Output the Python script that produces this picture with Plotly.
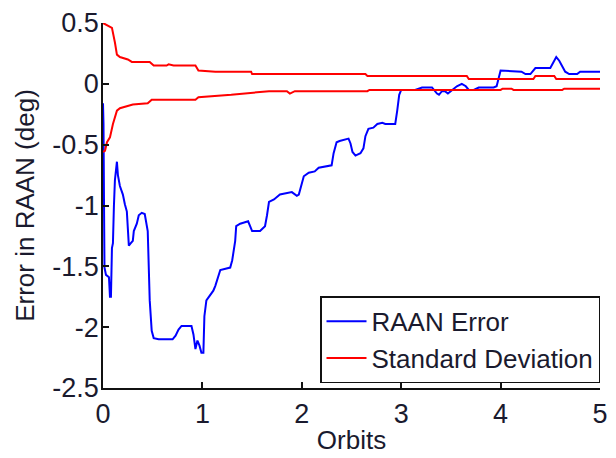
import plotly.graph_objects as go

# RAAN error (deg) vs orbits
err_x = [0.00, 0.005, 0.01, 0.015, 0.03, 0.06, 0.07, 0.08, 0.09, 0.10, 0.11, 0.12, 0.14, 0.15, 0.17,
         0.20, 0.22, 0.24, 0.25, 0.26, 0.28, 0.30, 0.31, 0.34, 0.36, 0.39, 0.42, 0.45, 0.47, 0.49,
         0.51, 0.56, 0.70, 0.73, 0.76, 0.79, 0.89, 0.91, 0.93, 0.95, 0.97, 0.99, 1.01, 1.02, 1.04,
         1.08, 1.11, 1.13, 1.16, 1.18, 1.28, 1.30, 1.33, 1.34, 1.38, 1.46, 1.48, 1.50, 1.58, 1.63,
         1.65, 1.67, 1.72, 1.78, 1.90, 1.95, 1.97, 2.00, 2.02, 2.07, 2.13, 2.17, 2.22, 2.30, 2.32,
         2.35, 2.38, 2.47, 2.49, 2.51, 2.54, 2.59, 2.62, 2.64, 2.67, 2.72, 2.76, 2.81, 2.84, 2.94,
         2.96, 2.98, 3.00, 3.14, 3.21, 3.31, 3.36, 3.38, 3.41, 3.44, 3.47, 3.51, 3.56, 3.61, 3.65,
         3.68, 3.73, 3.78, 3.93, 3.96, 3.98, 4.00, 4.21, 4.25, 4.30, 4.35, 4.50, 4.54, 4.56, 4.59,
         4.62, 4.65, 4.69, 4.77, 4.80, 5.00]
err_y = [-0.16, -0.33, -0.95, -1.51, -1.57, -1.59, -1.75, -1.75, -1.35, -1.31, -1.00, -0.79, -0.64, -0.75, -0.84,
         -0.91, -0.99, -1.05, -1.19, -1.33, -1.31, -1.29, -1.21, -1.15, -1.08, -1.06, -1.07, -1.21, -1.78, -2.03,
         -2.09, -2.10, -2.10, -2.07, -2.02, -1.99, -1.99, -2.06, -2.18, -2.11, -2.15, -2.21, -2.21, -1.91, -1.78,
         -1.73, -1.70, -1.66, -1.59, -1.53, -1.51, -1.45, -1.29, -1.17, -1.15, -1.13, -1.17, -1.21, -1.21, -1.17,
         -1.08, -0.97, -0.95, -0.91, -0.89, -0.92, -0.91, -0.81, -0.76, -0.73, -0.72, -0.69, -0.68, -0.67, -0.57,
         -0.48, -0.47, -0.45, -0.49, -0.56, -0.59, -0.57, -0.53, -0.43, -0.37, -0.36, -0.33, -0.32, -0.33, -0.33,
         -0.22, -0.09, -0.05, -0.05, -0.03, -0.03, -0.08, -0.09, -0.06, -0.06, -0.08, -0.05, -0.02, 0.00, -0.02,
         -0.05, -0.05, -0.03, -0.03, -0.02, 0.04, 0.11, 0.10, 0.08, 0.08, 0.13, 0.13, 0.19, 0.22, 0.19,
         0.14, 0.10, 0.08, 0.08, 0.10, 0.10]

# Standard deviation envelope (upper)
sdu_x = [0.00, 0.04, 0.09, 0.12, 0.14, 0.17, 0.25, 0.29, 0.47, 0.51, 0.64, 0.66, 0.71, 0.93, 0.96,
         1.13, 1.49, 1.50, 2.64, 2.66, 3.66, 3.68, 4.33, 4.35, 4.54, 4.56, 5.00]
sdu_y = [0.50, 0.48, 0.46, 0.34, 0.24, 0.22, 0.20, 0.18, 0.18, 0.15, 0.15, 0.16, 0.15, 0.15, 0.11,
         0.10, 0.10, 0.08, 0.08, 0.065, 0.065, 0.04, 0.04, 0.065, 0.065, 0.04, 0.04]

# Standard deviation envelope (lower)
sdl_x = [0.00, 0.02, 0.04, 0.07, 0.10, 0.14, 0.17, 0.27, 0.30, 0.45, 0.49, 0.93, 0.96, 1.29, 1.67,
         1.85, 1.88, 1.93, 2.66, 2.68, 4.00, 4.02, 4.11, 4.13, 4.62, 4.64, 5.00]
sdl_y = [-0.56, -0.55, -0.48, -0.44, -0.33, -0.22, -0.20, -0.18, -0.17, -0.16, -0.13, -0.13, -0.11, -0.09, -0.06,
         -0.06, -0.08, -0.06, -0.06, -0.05, -0.05, -0.04, -0.04, -0.05, -0.05, -0.04, -0.04]

x_ticks = [0, 1, 2, 3, 4, 5]
x_tick_text = ["0", "1", "2", "3", "4", "5"]
y_ticks = [-2.5, -2, -1.5, -1, -0.5, 0, 0.5]
y_tick_text = ["-2.5", "-2", "-1.5", "-1", "-0.5", "0", "0.5"]

FONT = "Liberation Sans, Arial, sans-serif"
INK = "#1a1a2e"

fig = go.Figure()
fig.add_trace(go.Scatter(x=err_x, y=err_y, mode="lines", name="RAAN Error",
                         line=dict(color="#0000FF", width=2)))
fig.add_trace(go.Scatter(x=sdu_x, y=sdu_y, mode="lines", name="Standard Deviation",
                         line=dict(color="#FF0000", width=2)))
fig.add_trace(go.Scatter(x=sdl_x, y=sdl_y, mode="lines", name="Standard Deviation",
                         line=dict(color="#FF0000", width=2), showlegend=False))

fig.update_layout(
    width=616, height=458,
    margin=dict(l=103, r=8, t=20, b=65),
    paper_bgcolor="white", plot_bgcolor="white",
    font=dict(family=FONT, size=27, color=INK),
    showlegend=True,
    legend=dict(x=1.0, y=0.013, xanchor="right", yanchor="bottom",
                bgcolor="white", bordercolor="#111111", borderwidth=1.5,
                font=dict(size=26), tracegroupgap=0, itemwidth=40),
    xaxis=dict(range=[0, 5], tickvals=x_ticks, ticktext=x_tick_text,
               showgrid=False, zeroline=False, showline=True, linecolor="#111111", linewidth=1.5,
               ticks="inside", ticklen=6, tickwidth=1.5, tickcolor="#111111",
               ticklabelstandoff=1,
               title=dict(text="Orbits", standoff=3, font=dict(size=26))),
    yaxis=dict(range=[-2.5, 0.5], tickvals=y_ticks, ticktext=y_tick_text,
               showgrid=False, zeroline=False, showline=True, linecolor="#111111", linewidth=1.5,
               ticks="inside", ticklen=6, tickwidth=1.5, tickcolor="#111111",
               ticklabelstandoff=-3,
               title=dict(text="Error in RAAN (deg)", standoff=10, font=dict(size=26))),
)

fig.write_html("out.html")
